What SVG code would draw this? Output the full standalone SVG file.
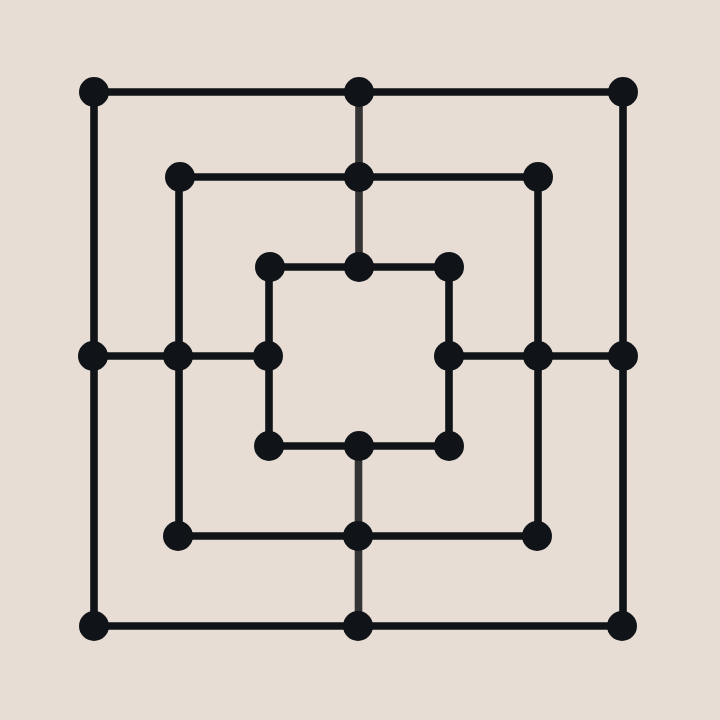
<svg xmlns="http://www.w3.org/2000/svg" width="720" height="720" viewBox="0 0 720 720">
<style>
.e{stroke:#101418;stroke-width:7.6;fill:none}
.g{stroke:#333333;stroke-width:7.6;fill:none}
.n{fill:#101418}
</style>
<rect width="720" height="720" fill="#E8DDD4"/>
<g id="connectors">
<path class="e" d="M94,92 H623 V626 H94 Z"/>
<path class="e" d="M179,177 H538 V536 H179 Z"/>
<path class="e" d="M269,267 H449 V446 H269 Z"/>
<line class="e" x1="94" y1="356" x2="269" y2="356"/>
<line class="e" x1="449" y1="356" x2="623" y2="356"/>
<line class="g" x1="359" y1="92" x2="359" y2="267"/>
<line class="g" x1="358.5" y1="446" x2="358.5" y2="626"/>
</g>
<g id="nodes">
<circle id="a1" class="n" cx="94" cy="92" r="15"/>
<circle id="a2" class="n" cx="359" cy="92" r="15"/>
<circle id="a3" class="n" cx="623" cy="92" r="15"/>
<circle id="a4" class="n" cx="93" cy="356" r="15"/>
<circle id="a5" class="n" cx="623" cy="356" r="15"/>
<circle id="a6" class="n" cx="94" cy="626" r="15"/>
<circle id="a7" class="n" cx="358" cy="626" r="15"/>
<circle id="a8" class="n" cx="622" cy="626" r="15"/>
<circle id="b1" class="n" cx="180" cy="177" r="15"/>
<circle id="b2" class="n" cx="359" cy="177" r="15"/>
<circle id="b3" class="n" cx="538" cy="177" r="15"/>
<circle id="b4" class="n" cx="178" cy="356" r="15"/>
<circle id="b5" class="n" cx="538" cy="356" r="15"/>
<circle id="b6" class="n" cx="178" cy="536" r="15"/>
<circle id="b7" class="n" cx="358" cy="536" r="15"/>
<circle id="b8" class="n" cx="537" cy="536" r="15"/>
<circle id="c1" class="n" cx="270" cy="267" r="15"/>
<circle id="c2" class="n" cx="359" cy="267" r="15"/>
<circle id="c3" class="n" cx="449" cy="267" r="15"/>
<circle id="c4" class="n" cx="268" cy="356" r="15"/>
<circle id="c5" class="n" cx="449" cy="356" r="15"/>
<circle id="c6" class="n" cx="269" cy="446" r="15"/>
<circle id="c7" class="n" cx="359" cy="446" r="15"/>
<circle id="c8" class="n" cx="449" cy="446" r="15"/>
</g>
</svg>
